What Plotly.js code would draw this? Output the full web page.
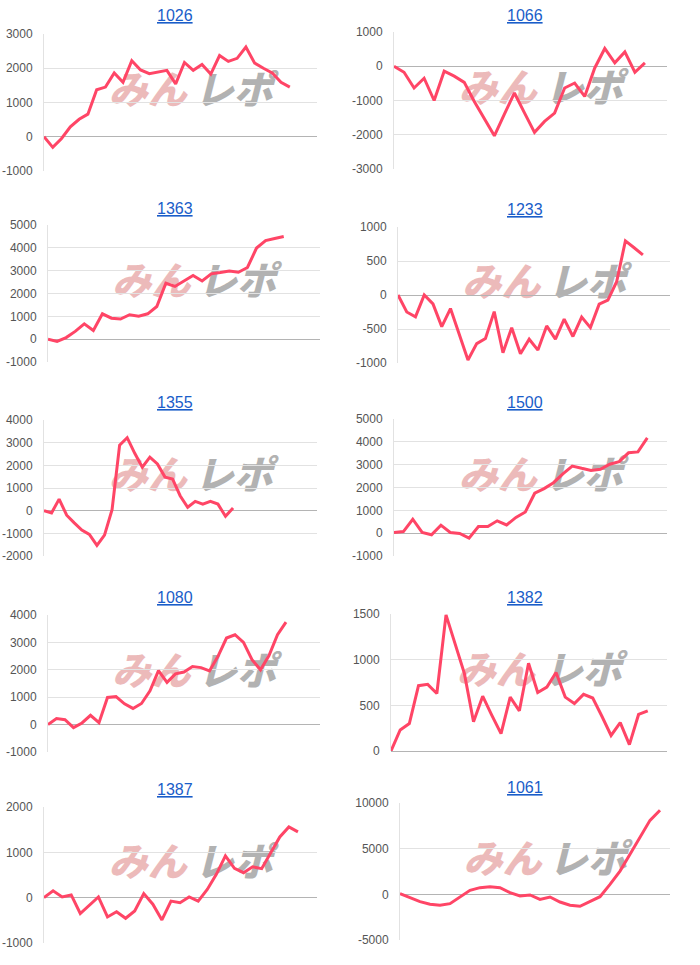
<!DOCTYPE html>
<html><head><meta charset="utf-8">
<script src="https://cdn.plot.ly/plotly-3.0.1.min.js"></script>
<style>html,body{margin:0;padding:0;background:#fff}#chart{width:700px;height:965px}</style>
</head><body><div id="chart"></div>
<script>
// ---- data ----
const titles = ['1026','1066','1363','1233','1355','1500','1080','1382','1387','1061'];
const v1026 = [0,-310,-50,290,510,660,1370,1450,1860,1590,2220,1950,1840,1900,1940,1545,2170,1940,2110,1830,2370,2200,2290,2620,2150,2000,1860,1590,1450];
const v1066 = [0,-175,-635,-350,-1000,-145,-290,-470,-1030,-1540,-2030,-1400,-780,-1360,-1930,-1610,-1370,-635,-490,-880,-50,520,100,420,-175,100];
const v1363 = [0,-100,70,340,670,380,1110,920,880,1070,1010,1110,1430,2450,2310,2550,2790,2550,2860,2920,2990,2930,3140,3990,4320,4410,4500];
const v1233 = [0,-250,-320,0,-130,-465,-200,-590,-955,-715,-640,-245,-850,-480,-865,-650,-810,-455,-650,-355,-610,-325,-480,-135,-75,195,795,695,590];
const v1355 = [0,-100,510,-200,-540,-860,-1050,-1530,-1080,40,2890,3220,2530,1920,2360,2060,1480,1400,660,150,410,290,410,290,-250,120];
const v1500 = [30,70,610,30,-70,350,30,-15,-220,290,290,540,360,690,930,1750,1950,2210,2600,2940,2840,2750,2800,3020,3130,3520,3560,4170];
const v1080 = [0,220,180,-110,60,340,70,990,1020,760,590,770,1230,1970,1540,1850,1920,2120,2080,1960,2490,3160,3280,3000,2370,2000,2520,3280,3740];
const v1382 = [0,230,300,715,730,630,1490,1180,850,320,600,390,190,590,440,960,640,700,860,590,520,620,580,380,170,310,70,400,440];
const v1387 = [0,150,15,60,-350,-160,15,-425,-310,-455,-295,90,-145,-490,-75,-110,15,-75,180,515,920,645,550,680,640,990,1340,1560,1450];
const v1061 = [70,-360,-800,-1090,-1200,-1020,-290,440,730,840,730,180,-180,-70,-550,-290,-840,-1200,-1310,-800,-260,1090,2550,4380,6280,8100,9200];
const series = [v1026,v1066,v1363,v1233,v1355,v1500,v1080,v1382,v1387,v1061];

// ---- layout config ----
const W = 700, H = 965;
const boxes = [[44,317,34,171],[394,667,32,169],[48,320,225,362],[398,670,227,363],[44,317,420,556],
               [394,667,419,556],[48,320,615,752],[391,667,614,751],[44,317,807,943],[400,670,803,940]];
const yRanges = [[-1000,3000],[-3000,1000],[-1000,5000],[-1000,1000],[-2000,4000],[-1000,5000],[-1000,4000],[0,1500],[-1000,2000],[-5000,10000]];
const yDticks = [1000,1000,1000,500,1000,1000,1000,500,1000,5000];
const xExtents = [31.1,27.2,30.0,31.1,36.1,29.1,32.0,30.1,30.1,27.0];
const titleY = [16,15,208,209,402,402,597,597,789,787];

const traces = [];
const layout = {width:W,height:H,margin:{l:0,r:0,t:0,b:0},showlegend:false,
  paper_bgcolor:'#ffffff',plot_bgcolor:'rgba(0,0,0,0)',annotations:[],shapes:[]};

series.forEach((vals,k)=>{
  const n = k+1, s = n===1?'':String(n);
  const xa = 'x'+s, ya = 'y'+s;
  const [l,r,t,b] = boxes[k];
  const tv = [];
  for (let v = yRanges[k][0]; v <= yRanges[k][1]; v += yDticks[k]) tv.push(v);
  traces.push({type:'scatter',mode:'lines',x:vals.map((_,i)=>i),y:vals,xaxis:xa,yaxis:ya,
    line:{color:'#ff4566',width:3},hoverinfo:'y'});
  layout['xaxis'+s] = {domain:[l/W,r/W],range:[0,xExtents[k]],showgrid:false,zeroline:false,showline:false,
    showticklabels:false,ticks:'',anchor:ya,fixedrange:true};
  layout['yaxis'+s] = {domain:[1-b/H,1-t/H],range:yRanges[k],tickmode:'array',tickvals:tv,ticktext:tv.map(String),
    showgrid:true,gridcolor:'#e2e2e2',gridwidth:1,zeroline:true,zerolinecolor:'#b4b4b4',zerolinewidth:1,
    showline:true,linecolor:'#e2e2e2',linewidth:1,ticks:'',ticklabelstandoff:8,
    tickfont:{family:'Liberation Sans, Arial, sans-serif',size:12,color:'#555555'},anchor:xa,fixedrange:true};
  const col = k%2===0 ? 175 : 525;
  layout.annotations.push({xref:'paper',yref:'paper',x:col/W,y:1-titleY[k]/H,xanchor:'center',yanchor:'middle',
    showarrow:false,text:'<u>'+titles[k]+'</u>',font:{family:'Liberation Sans, Arial, sans-serif',size:16,color:'#1a5dc9'}});
  // watermark (behind the line)
  layout.shapes.push({type:'rect',xref:xa+' domain',yref:ya+' domain',x0:0.24,x1:0.52,y0:0.46,y1:0.68,layer:'below',
    line:{width:0},fillcolor:'rgba(0,0,0,0)',
    label:{text:'<i>みん</i>',textposition:'middle center',font:{family:'Noto Sans CJK JP',size:39,weight:900,color:'#ecbaba'}}});
  layout.shapes.push({type:'rect',xref:xa+' domain',yref:ya+' domain',x0:0.555,x1:0.835,y0:0.46,y1:0.68,layer:'below',
    line:{width:0},fillcolor:'rgba(0,0,0,0)',
    label:{text:'<i>レポ</i>',textposition:'middle center',font:{family:'Noto Sans CJK JP',size:39,weight:900,color:'#b2b2b2'}}});
});

Plotly.newPlot('chart',traces,layout,{displayModeBar:false,staticPlot:true});
</script></body></html>
